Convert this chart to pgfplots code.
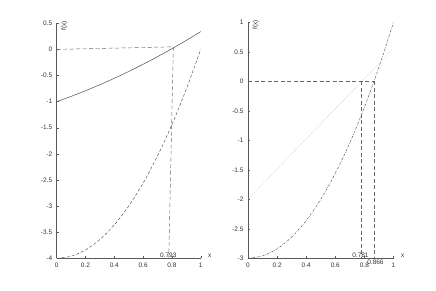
\documentclass[border=0pt]{standalone}
\usepackage{fontspec}
\setmainfont{Liberation Sans}
\usepackage{pgfplots}
\pgfplotsset{compat=1.18}
\begin{document}
\begin{tikzpicture}
\path[use as bounding box] (0pt,0pt) rectangle (436pt,290pt);
\pgfplotsset{
  myax/.style={
    scale only axis,
    axis x line=bottom, axis y line=left,
    axis line style={-, color=black!65, line width=0.5pt},
    tick style={color=black!65, line width=0.4pt},
    tick align=inside,
    major tick length=2pt,
    xmin=0, xmax=1,
    xtick={0,0.2,...,1},
    enlargelimits=false,
    clip=false,
    ticklabel style={font=\fontsize{6.5}{7.5}\selectfont, text=black!80},
    /pgf/number format/assume math mode=true,
    xticklabel style={yshift=-1pt},
    yticklabel style={xshift=-1pt},
    xlabel={x}, ylabel={f(x)},
    every axis x label/.style={at={(axis description cs:1,0)}, anchor=west, xshift=4pt, yshift=2.5pt, font=\fontsize{6.5}{7.5}\selectfont, text=black!80},
    every axis y label/.style={at={(axis description cs:0,1)}, rotate=90, anchor=north east, xshift=3pt, yshift=-4pt, inner sep=0.5pt, font=\fontsize{6.5}{7.5}\selectfont, text=black!80},
  }
}
\begin{axis}[myax, at={(56.7pt,31.7pt)}, anchor=south west, width=144pt, height=235pt,
  ymin=-4, ymax=0.5, ytick={-4,-3.5,...,0.5}]
\addplot[black!70, line width=0.5pt, smooth] coordinates {(0,-1) (0.1,-0.8993) (0.2,-0.7912) (0.3,-0.6757) (0.4,-0.5528) (0.5,-0.4225) (0.6,-0.2848) (0.7,-0.1397) (0.8,0.0128) (0.9,0.1727) (1,0.34)};
\addplot[black!70, line width=0.45pt, smooth, dash pattern=on 3pt off 2pt] coordinates {(0,-4) (0.1,-3.96) (0.2,-3.84) (0.3,-3.64) (0.4,-3.36) (0.5,-3) (0.6,-2.56) (0.7,-2.04) (0.8,-1.44) (0.9,-0.76) (1,0)};
\addplot[black!60, line width=0.45pt, dash pattern=on 4pt off 2.5pt] coordinates {(0,0) (0.81,0.05) (0.778,-4)};
\node[font=\fontsize{6.5}{7.5}\selectfont, text=black!80, anchor=south, inner sep=0.5pt] at (axis cs:0.775,-4) {0.793};
\end{axis}
\begin{axis}[myax, at={(248pt,31.7pt)}, anchor=south west, width=145.5pt, height=236pt,
  ymin=-3, ymax=1, ytick={-3,-2.5,...,1}]
\addplot[black!35, line width=0.4pt, densely dotted] coordinates {(0,-2) (1,0.56)};
\addplot[black!75, line width=0.45pt, smooth, dash pattern=on 2pt off 1.2pt on 0.5pt off 1.2pt] coordinates {(0,-3) (0.1,-2.96) (0.2,-2.84) (0.3,-2.64) (0.4,-2.36) (0.5,-2) (0.6,-1.56) (0.7,-1.04) (0.8,-0.44) (0.9,0.24) (1,1)};
\addplot[black!60, line width=0.45pt, dash pattern=on 4pt off 2.5pt] coordinates {(0,0) (0.866,0)};
\addplot[black!60, line width=0.45pt, dash pattern=on 4pt off 2.5pt] coordinates {(0.781,0) (0.781,-3)};
\addplot[black!60, line width=0.45pt, dash pattern=on 4pt off 2.5pt] coordinates {(0.866,0) (0.866,-3)};
\node[font=\fontsize{6.5}{7.5}\selectfont, text=black!80, anchor=south, inner sep=0.5pt] at (axis cs:0.773,-3) {0.781};
\node[font=\fontsize{6.5}{7.5}\selectfont, text=black!80, inner sep=0.5pt] at (axis cs:0.876,-3.07) {0.866};
\end{axis}
\end{tikzpicture}
\end{document}
